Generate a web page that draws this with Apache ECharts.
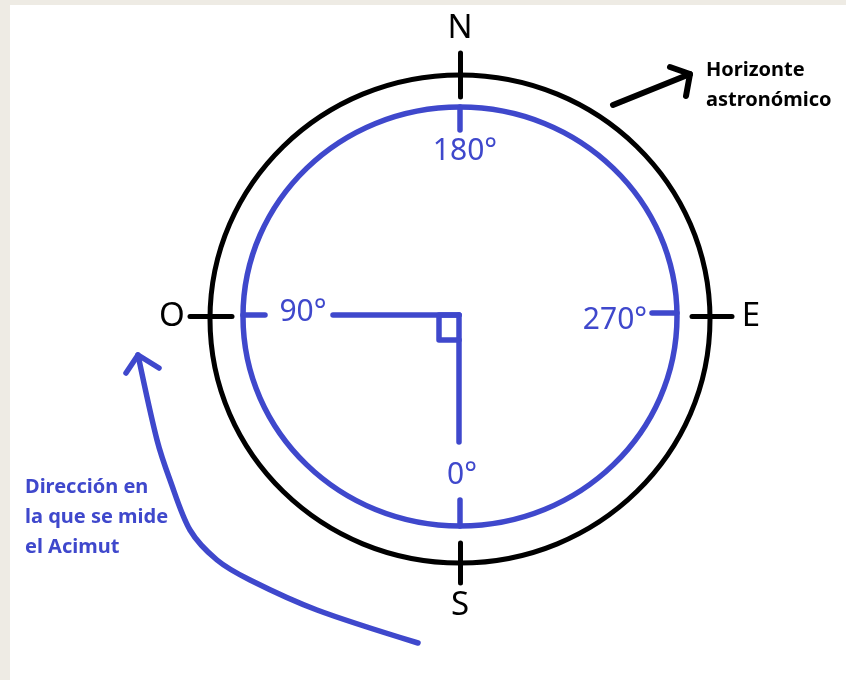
<!DOCTYPE html>
<html>
<head>
<meta charset="utf-8">
<script src="https://cdn.jsdelivr.net/npm/echarts@6/dist/echarts.min.js"></script>
<style>
  html, body { margin: 0; padding: 0; background: #eeebe4; }
  #main { width: 846px; height: 680px; }
</style>
</head>
<body>
<div id="main"></div>
<script>
// horizonte (negro) y circulo del acimut (azul): cx, cy, rx, ry
var rings = [[460, 319, 250, 244], [460, 316.5, 217, 209.5]];

// marcas negras de los puntos cardinales
var blackTicks = [
  [[460, 53], [460, 97]],
  [[460, 543], [460, 583]],
  [[190, 316], [232, 316]],
  [[692, 316], [732, 316]]
];
// flecha negra hacia el texto
var blackArrow = [[613, 105], [690, 74]];
var blackHead = [[670, 67], [690, 74], [686, 96]];

// marcas y lineas azules
var blueTicks = [
  [[460, 107], [460, 130]],
  [[460, 500], [460, 526]],
  [[243, 315], [265, 315]],
  [[652, 313], [677, 313]],
  [[333, 315], [459, 315]],
  [[459, 315], [459, 442]]
];
var rightAngle = [[459, 315], [439, 315], [439, 340], [459, 340]];

// flecha curva azul (direccion del acimut), desde la punta
var curvePts = [[138, 355], [157, 440], [170, 480], [190, 530], [217, 560], [250, 580], [317, 610], [418, 643]];
var curveHead = [[126, 373], [138, 355], [159, 368]];

var cardinalNames = ['N', 'O', 'E', 'S'];
var cardinalPos = [[460, 29], [172, 317], [751, 317], [460, 606]];
var degreeNames = ['180°', '90°', '270°', '0°'];
var degreePos = [[465, 151], [303, 312], [615, 320], [462, 475]];
var horizonText = ['Horizonte', 'astronómico'];
var horizonPos = [[706, 70], [706, 100]];
var azimutText = ['Dirección en', 'la que se mide', 'el Acimut'];
var azimutPos = [[25, 487], [25, 517], [25, 547]];

var BLUE = '#3f48cc';
var BLACK = '#000000';

var myChart = echarts.init(document.getElementById('main'));

function segs(list) {
  return list.map(function (c) { return { coords: c }; });
}
function textItems(names, pos) {
  return names.map(function (n, i) { return { name: n, value: pos[i] }; });
}
function textSeries(names, pos, color, font, align) {
  return {
    type: 'custom',
    silent: true,
    data: textItems(names, pos),
    renderItem: function (params, api) {
      var p = api.coord([api.value(0), api.value(1)]);
      return {
        type: 'text',
        x: p[0],
        y: p[1],
        style: {
          text: names[params.dataIndex],
          fill: color,
          font: font,
          align: align,
          verticalAlign: 'middle'
        }
      };
    }
  };
}

var option = {
  backgroundColor: '#eeebe4',
  animation: false,
  grid: {
    left: 10, top: 5, right: 0, bottom: 0,
    show: true, backgroundColor: '#ffffff', borderWidth: 0
  },
  xAxis: { type: 'value', min: 10, max: 846, show: false },
  yAxis: { type: 'value', min: 5, max: 680, inverse: true, show: false },
  series: [
    {
      type: 'custom',
      silent: true,
      data: rings,
      renderItem: function (params, api) {
        var c = api.coord([api.value(0), api.value(1)]);
        var s = api.size([api.value(2), api.value(3)]);
        return {
          type: 'ellipse',
          shape: { cx: c[0], cy: c[1], rx: s[0], ry: s[1] },
          style: {
            fill: null,
            stroke: params.dataIndex === 0 ? BLACK : BLUE,
            lineWidth: params.dataIndex === 0 ? 5 : 5.5
          }
        };
      }
    },
    {
      type: 'lines', coordinateSystem: 'cartesian2d', silent: true,
      data: segs(blackTicks),
      lineStyle: { color: BLACK, width: 5, opacity: 1, cap: 'round' }
    },
    {
      type: 'lines', coordinateSystem: 'cartesian2d', silent: true, polyline: true,
      data: segs([blackArrow, blackHead]),
      lineStyle: { color: BLACK, width: 6, opacity: 1, cap: 'round', join: 'round' }
    },
    {
      type: 'lines', coordinateSystem: 'cartesian2d', silent: true, polyline: true,
      data: segs(blueTicks.concat([rightAngle, curveHead])),
      lineStyle: { color: BLUE, width: 5.5, opacity: 1, cap: 'round', join: 'round' }
    },
    {
      type: 'line', silent: true, smooth: 0.3, showSymbol: false,
      data: curvePts,
      lineStyle: { color: BLUE, width: 5.5, cap: 'round' }
    },
    textSeries(cardinalNames, cardinalPos, BLACK, '33px "Noto Sans"', 'center'),
    textSeries(degreeNames, degreePos, BLUE, '30px "Noto Sans"', 'center'),
    textSeries(horizonText, horizonPos, BLACK, 'bold 20px "Noto Sans"', 'left'),
    textSeries(azimutText, azimutPos, BLUE, 'bold 20px "Noto Sans"', 'left')
  ]
};

myChart.setOption(option);
window.addEventListener('resize', function () {
  myChart.resize();
});
</script>
</body>
</html>
